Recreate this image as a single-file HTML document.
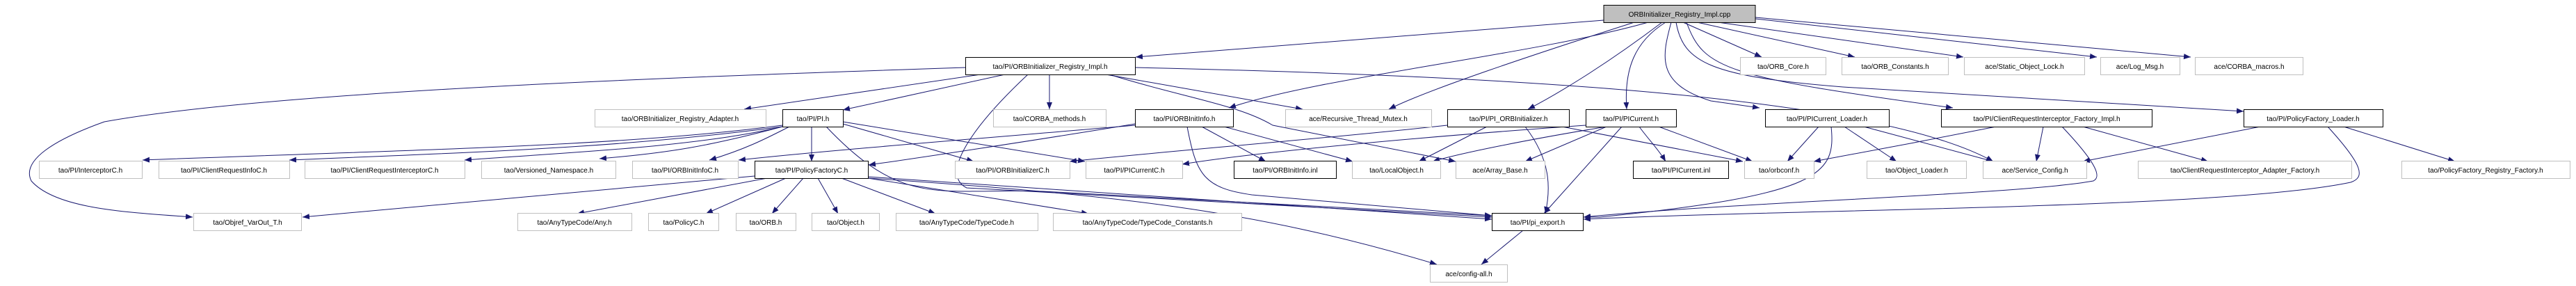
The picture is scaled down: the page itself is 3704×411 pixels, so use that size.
<!DOCTYPE html>
<html><head><meta charset="utf-8"><style>
html,body{margin:0;padding:0;background:#fff;}
svg{display:block;}
text{font-family:"Liberation Sans",sans-serif;font-size:10px;fill:#000;}
</style></head><body>
<svg width="3704" height="411" viewBox="0 0 3704 411" xmlns="http://www.w3.org/2000/svg">
<defs>
<marker id="a" viewBox="0 0 10 10" refX="10" refY="5" markerWidth="10" markerHeight="10" markerUnits="userSpaceOnUse" orient="auto">
<path d="M0,1 L10,5 L0,9 z" fill="#191970"/>
</marker>
</defs>
<g fill="none" stroke="#191970" stroke-width="1" marker-end="url(#a)">
<!-- from cpp -->
<path d="M2306,29 L1633,82"/>
<path d="M2350,32 C2200,80 2050,130 1997,157"/>
<path d="M2390,32 C2300,100 2230,140 2197,157"/>
<path d="M2395,32 C2350,60 2335,100 2339,157"/>
<path d="M2403,32 C2390,80 2380,120 2460,145 L2530,155"/>
<path d="M2420,32 L2533,82"/>
<path d="M2440,32 L2667,82"/>
<path d="M2470,32 L2823,82"/>
<path d="M2524,27 L3015,82"/>
<path d="M2524,25 L3150,82"/>
<path d="M2425,32 C2450,100 2480,110 2808,155"/>
<path d="M2410,32 C2420,90 2460,110 2650,125 L3226,160"/>
<path d="M2370,32 C2200,80 1900,110 1767,155"/>
<!-- from Impl.h -->
<path d="M1388,97 C1000,110 400,130 150,175 C80,200 30,230 45,260 C80,300 180,305 277,312"/>
<path d="M1410,107 L1070,157"/>
<path d="M1445,107 L1212,158"/>
<path d="M1509,107 L1509,157"/>
<path d="M1478,107 C1400,180 1350,250 1390,270 L2145,312"/>
<path d="M1590,107 L1873,157"/>
<path d="M1595,107 C1700,140 1780,150 1830,180 L2093,232"/>
<path d="M1632,97 C2200,110 2700,140 2866,232"/>
<!-- from PI.h -->
<path d="M1125,180 C900,210 600,215 205,230"/>
<path d="M1125,182 C900,212 700,218 416,230"/>
<path d="M1125,182 C1000,212 800,220 668,230"/>
<path d="M1125,182 C1020,210 960,220 862,228"/>
<path d="M1135,182 C1100,200 1070,215 1020,230"/>
<path d="M1167,182 L1167,232"/>
<path d="M1212,178 L1400,232"/>
<path d="M1212,175 L1560,232"/>
<path d="M1188,182 C1300,300 1350,270 1500,275 L2145,310"/>
<!-- ORBInitInfo.h -->
<path d="M1632,178 C1500,200 1300,230 1249,237"/>
<path d="M1632,180 C1400,200 1200,215 1062,230"/>
<path d="M1728,182 L1820,232"/>
<path d="M1760,182 L1945,232"/>
<path d="M1707,182 C1720,250 1730,270 1800,280 L2145,310"/>
<!-- PI_ORBInitializer.h -->
<path d="M2081,180 C1900,200 1700,215 1538,232"/>
<path d="M2138,182 L2040,232"/>
<path d="M2193,182 C2230,230 2230,270 2222,307"/>
<path d="M2246,182 L2506,232"/>
<!-- PICurrent.h -->
<path d="M2280,180 C2000,200 1800,220 1700,236"/>
<path d="M2310,182 C2200,200 2100,220 2060,232"/>
<path d="M2310,182 L2193,232"/>
<path d="M2357,182 C2370,200 2385,215 2395,232"/>
<path d="M2385,182 L2520,232"/>
<path d="M2332,182 L2220,307"/>
<!-- PICurrent_Loader.h -->
<path d="M2615,182 L2570,232"/>
<path d="M2652,182 L2727,232"/>
<path d="M2633,182 C2640,250 2620,280 2300,312 L2277,312"/>
<path d="M2680,182 L2866,232"/>
<!-- ClientRequestInterceptor_Factory_Impl.h -->
<path d="M2870,182 C2780,200 2700,215 2608,232"/>
<path d="M2938,182 L2928,232"/>
<path d="M2995,182 L3175,232"/>
<path d="M2965,182 C3020,240 3020,255 3010,260 C2900,280 2500,290 2277,312"/>
<!-- PolicyFactory_Loader.h -->
<path d="M3250,182 L2995,232"/>
<path d="M3370,182 L3530,232"/>
<path d="M3347,182 C3400,240 3400,255 3380,262 C3200,300 2600,300 2277,315"/>
<!-- PolicyFactoryC.h -->
<path d="M1085,253 L435,312"/>
<path d="M1103,256 L830,307"/>
<path d="M1130,256 L1015,307"/>
<path d="M1155,256 L1110,307"/>
<path d="M1176,256 L1205,307"/>
<path d="M1210,256 L1345,307"/>
<path d="M1248,256 L1565,307"/>
<path d="M1248,254 L2145,315"/>
<path d="M1248,256 C1600,280 1800,300 2066,380"/>
<!-- pi_export -->
<path d="M2190,331 L2130,380"/>
</g>
<g stroke-width="1">
<rect x="2306" y="7.5" width="218" height="25" fill="#bfbfbf" stroke="#000"/>
<g fill="#fff" stroke="#000">
<rect x="1388.5" y="82.5" width="244" height="25"/>
<rect x="1125.5" y="157.5" width="87" height="25"/>
<rect x="1632.5" y="157.5" width="141" height="25"/>
<rect x="2081.5" y="157.5" width="175" height="25"/>
<rect x="2280.5" y="157.5" width="130" height="25"/>
<rect x="2538.5" y="157.5" width="178" height="25"/>
<rect x="2791.5" y="157.5" width="303" height="25"/>
<rect x="3226.5" y="157.5" width="200" height="25"/>
<rect x="1085.5" y="231.5" width="163" height="25"/>
<rect x="1774.5" y="231.5" width="147" height="25"/>
<rect x="2348.5" y="231.5" width="137" height="25"/>
<rect x="2145.5" y="306.5" width="131" height="25"/>
</g>
<g fill="#fff" stroke="#bfbfbf">
<rect x="2502.5" y="82.5" width="123" height="25"/>
<rect x="2648.5" y="82.5" width="153" height="25"/>
<rect x="2824.5" y="82.5" width="173" height="25"/>
<rect x="3020.5" y="82.5" width="114" height="25"/>
<rect x="3156.5" y="82.5" width="155" height="25"/>
<rect x="855.5" y="157.5" width="246" height="25"/>
<rect x="1428.5" y="157.5" width="162" height="25"/>
<rect x="1848.5" y="157.5" width="210" height="25"/>
<rect x="56.5" y="231.5" width="148" height="25"/>
<rect x="228.5" y="231.5" width="188" height="25"/>
<rect x="438.5" y="231.5" width="230" height="25"/>
<rect x="692.5" y="231.5" width="193" height="25"/>
<rect x="909.5" y="231.5" width="152" height="25"/>
<rect x="1373.5" y="231.5" width="165" height="25"/>
<rect x="1561.5" y="231.5" width="139" height="25"/>
<rect x="1944.5" y="231.5" width="127" height="25"/>
<rect x="2093.5" y="231.5" width="128" height="25"/>
<rect x="2508.5" y="231.5" width="100" height="25"/>
<rect x="2684.5" y="231.5" width="143" height="25"/>
<rect x="2851.5" y="231.5" width="149" height="25"/>
<rect x="3074.5" y="231.5" width="307" height="25"/>
<rect x="3453.5" y="231.5" width="242" height="25"/>
<rect x="278.5" y="306.5" width="155" height="25"/>
<rect x="744.5" y="306.5" width="164" height="25"/>
<rect x="932.5" y="306.5" width="101" height="25"/>
<rect x="1058.5" y="306.5" width="86" height="25"/>
<rect x="1167.5" y="306.5" width="97" height="25"/>
<rect x="1288.5" y="306.5" width="204" height="25"/>
<rect x="1514.5" y="306.5" width="271" height="25"/>
<rect x="2056.5" y="380.5" width="111" height="25"/>
</g>
</g>
<g text-anchor="middle" lengthAdjust="spacingAndGlyphs">
<text x="2415" y="24">ORBInitializer_Registry_Impl.cpp</text>
<text x="1510" y="99">tao/PI/ORBInitializer_Registry_Impl.h</text>
<text x="1169" y="174">tao/PI/PI.h</text>
<text x="1703" y="174">tao/PI/ORBInitInfo.h</text>
<text x="2169" y="174">tao/PI/PI_ORBInitializer.h</text>
<text x="2345" y="174">tao/PI/PICurrent.h</text>
<text x="2627" y="174">tao/PI/PICurrent_Loader.h</text>
<text x="2943" y="174">tao/PI/ClientRequestInterceptor_Factory_Impl.h</text>
<text x="3326" y="174">tao/PI/PolicyFactory_Loader.h</text>
<text x="1167" y="248">tao/PI/PolicyFactoryC.h</text>
<text x="1848" y="248">tao/PI/ORBInitInfo.inl</text>
<text x="2417" y="248">tao/PI/PICurrent.inl</text>
<text x="2211" y="323">tao/PI/pi_export.h</text>
<text x="2564" y="99">tao/ORB_Core.h</text>
<text x="2725" y="99">tao/ORB_Constants.h</text>
<text x="2911" y="99">ace/Static_Object_Lock.h</text>
<text x="3077" y="99">ace/Log_Msg.h</text>
<text x="3234" y="99">ace/CORBA_macros.h</text>
<text x="978" y="174">tao/ORBInitializer_Registry_Adapter.h</text>
<text x="1509" y="174">tao/CORBA_methods.h</text>
<text x="1953" y="174">ace/Recursive_Thread_Mutex.h</text>
<text x="130" y="248">tao/PI/InterceptorC.h</text>
<text x="322" y="248">tao/PI/ClientRequestInfoC.h</text>
<text x="553" y="248">tao/PI/ClientRequestInterceptorC.h</text>
<text x="789" y="248">tao/Versioned_Namespace.h</text>
<text x="985" y="248">tao/PI/ORBInitInfoC.h</text>
<text x="1456" y="248">tao/PI/ORBInitializerC.h</text>
<text x="1631" y="248">tao/PI/PICurrentC.h</text>
<text x="2008" y="248">tao/LocalObject.h</text>
<text x="2157" y="248">ace/Array_Base.h</text>
<text x="2558" y="248">tao/orbconf.h</text>
<text x="2756" y="248">tao/Object_Loader.h</text>
<text x="2926" y="248">ace/Service_Config.h</text>
<text x="3228" y="248">tao/ClientRequestInterceptor_Adapter_Factory.h</text>
<text x="3574" y="248">tao/PolicyFactory_Registry_Factory.h</text>
<text x="356" y="323">tao/Objref_VarOut_T.h</text>
<text x="826" y="323">tao/AnyTypeCode/Any.h</text>
<text x="983" y="323">tao/PolicyC.h</text>
<text x="1101" y="323">tao/ORB.h</text>
<text x="1216" y="323">tao/Object.h</text>
<text x="1390" y="323">tao/AnyTypeCode/TypeCode.h</text>
<text x="1650" y="323">tao/AnyTypeCode/TypeCode_Constants.h</text>
<text x="2112" y="397">ace/config-all.h</text>
</g>
</svg>
</body></html>
